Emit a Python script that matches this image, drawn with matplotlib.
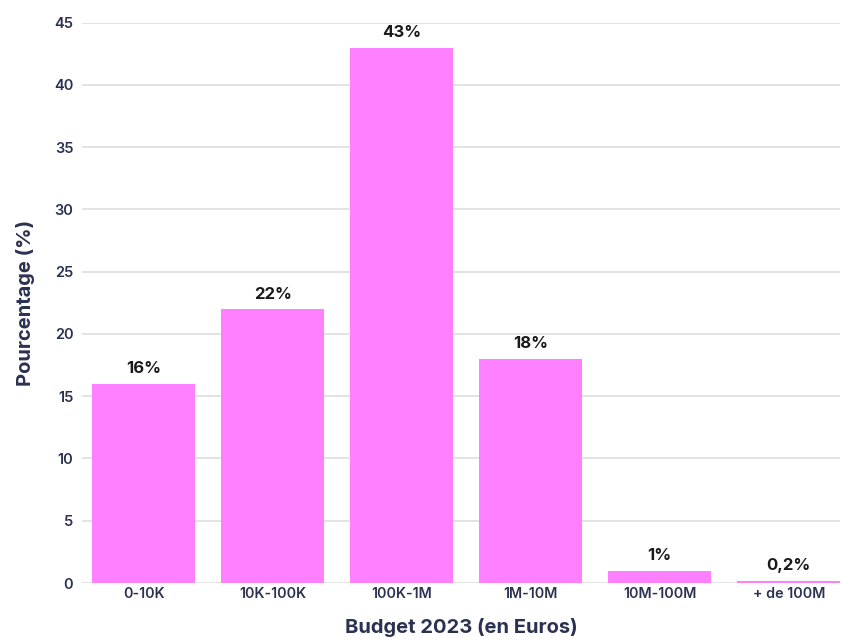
import matplotlib
matplotlib.use("Agg")
import matplotlib.pyplot as plt

categories = ["0-10K", "10K-100K", "100K-1M", "1M-10M", "10M-100M", "+ de 100M"]
values = [16, 22, 43, 18, 1, 0.2]
value_labels = ["16%", "22%", "43%", "18%", "1%", "0,2%"]
yticks = [0, 5, 10, 15, 20, 25, 30, 35, 40, 45]

plt.rcParams['font.family'] = ['Inter', 'DejaVu Sans']
navy = "#2b3150"
pink = "#ff80ff"

fig = plt.figure(figsize=(8.42, 6.39), dpi=100)
ax = fig.add_axes([0.097, 0.0876, 0.901, 0.877])

x = list(range(len(categories)))
ax.bar(x, values, width=0.8, color=pink, zorder=2)
for xi, v, lab in zip(x, values, value_labels):
    ax.text(xi, v + 0.6, lab, ha="center", va="bottom", fontsize=12,
            fontweight="bold", color="#1a1a1a")

ax.set_xlim(-0.48, 5.4)
ax.set_ylim(0, 45)
ax.set_yticks(yticks)
ax.set_xticks(x)
ax.set_xticklabels(categories, fontsize=10.3, fontweight="semibold", color=navy)
ax.set_yticklabels([str(t) for t in yticks], fontsize=10.5, fontweight="semibold", color=navy)
ax.tick_params(axis="both", length=0, pad=6)
ax.tick_params(axis="x", pad=3)
ax.grid(axis="y", color="#dedede", linewidth=1.2, zorder=0)
for s in ax.spines.values():
    s.set_visible(False)

ax.set_xlabel("Budget 2023 (en Euros)", fontsize=14.5, fontweight="bold", color=navy, labelpad=12)
ax.set_ylabel("Pourcentage (%)", fontsize=14.5, fontweight="bold", color=navy, labelpad=14)

fig.savefig("out.png", dpi=100)
